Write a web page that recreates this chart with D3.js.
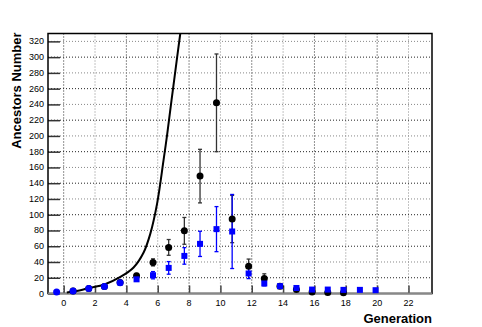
<!DOCTYPE html>
<html>
<head>
<meta charset="utf-8">
<script src="https://cdn.jsdelivr.net/npm/d3@7"></script>
<style>
  body { margin: 0; background: #fff; }
  text { font-family: "Liberation Sans", Arial, sans-serif; }
  .tick-label { font-size: 9px; fill: #000; }
  .axis-title { font-size: 13px; font-weight: bold; fill: #000; }
</style>
</head>
<body>
<div id="chart"></div>
<script>
// Black series (circles): generation, value, error
const blackGen = [0.6, 1.6, 2.6, 3.6, 4.65, 5.7, 6.7, 7.7, 8.7, 9.75, 10.75, 11.8, 12.8, 13.8, 14.85, 15.85, 16.85, 17.85];
const blackVal = [3.3, 6.3, 9, 14, 22.4, 39.5, 58.5, 79.5, 149, 242, 94.5, 34.7, 19, 9.3, 5, 2, 1.3, 1];
const blackErr = [1, 1.5, 2, 2.5, 3, 4.5, 10, 17, 34, 62, 30, 9, 6, 2.5, 1.5, 1, 1, 1];

// Blue series, low generations (circles)
const blueCircGen = [-0.45, 0.6, 1.6, 2.6, 3.6];
const blueCircVal = [1.8, 3.3, 6.3, 8.9, 13.5];

// Blue series (squares)
const blueGen = [4.65, 5.7, 6.7, 7.7, 8.7, 9.75, 10.75, 11.8, 12.8, 13.8, 14.85, 15.85, 16.85, 17.85, 18.9, 19.9];
const blueVal = [18, 23.2, 32.5, 47.7, 63, 81.7, 78.7, 25.4, 12.7, 9.3, 7, 5, 5, 4.6, 4.6, 4.2];
const blueErr = [2, 4.6, 8, 10.5, 16, 28.6, 47, 6.5, 3, 2.5, 1.5, 1, 0, 0, 0, 0];

// Curve
const curveGen = [0.2, 1.07, 1.6, 2.6, 3.62, 4.46, 5.1, 5.53, 5.96, 6.37, 6.61, 6.88, 7.24, 7.44];
const curveVal = [1.3, 4.2, 7, 11.5, 21, 33, 52, 76, 114, 169, 203, 245, 300, 330];

const xTicks = d3.range(0, 23, 2);
const yTicks = d3.range(0, 321, 20);

const width = 482, height = 327;
const margin = { left: 48, right: 50, top: 33.5, bottom: 33.5 };
const innerWidth = width - margin.left - margin.right;
const innerHeight = height - margin.top - margin.bottom;

const svg = d3.select("#chart")
  .append("svg")
  .attr("width", width)
  .attr("height", height);

const g = svg.append("g")
  .attr("transform", `translate(${margin.left}, ${margin.top})`);

const x = d3.scaleLinear().domain([-1, 23.5]).range([0, innerWidth]);
const y = d3.scaleLinear().domain([0, 330]).range([innerHeight, 0]);

// Grid
g.append("g").selectAll("line").data(xTicks).enter().append("line")
  .attr("x1", d => x(d)).attr("x2", d => x(d))
  .attr("y1", 0).attr("y2", innerHeight)
  .attr("stroke", (d, i) => i % 2 ? "#888" : "#222")
  .attr("stroke-dasharray", "1,2");
g.append("g").selectAll("line").data(yTicks.slice(1)).enter().append("line")
  .attr("x1", 0).attr("x2", innerWidth)
  .attr("y1", d => y(d)).attr("y2", d => y(d))
  .attr("stroke", (d, i) => i % 2 ? "#888" : "#222")
  .attr("stroke-dasharray", "1,2");

// Axes tick marks (pointing inward), labels drawn separately
const yAxis = g.append("g")
  .call(d3.axisLeft(y).tickValues(yTicks).tickSizeInner(-12).tickSizeOuter(0).tickFormat(""));
yAxis.select(".domain").remove();
yAxis.selectAll("line").attr("stroke", "#333").attr("stroke-width", 1.5);

const xAxis = g.append("g")
  .attr("transform", `translate(0, ${innerHeight})`)
  .call(d3.axisBottom(x).tickValues(xTicks).tickSizeInner(-8).tickSizeOuter(0).tickFormat(""));
xAxis.select(".domain").remove();
xAxis.selectAll("line").attr("stroke", "#444").attr("stroke-width", 1.5);

// Tick labels
g.append("g").selectAll("text").data(yTicks).enter().append("text")
  .attr("class", "tick-label")
  .attr("text-anchor", "end")
  .attr("x", -4)
  .attr("y", d => y(d) + 3)
  .text(d => d);
g.append("g").selectAll("text").data(xTicks).enter().append("text")
  .attr("class", "tick-label")
  .attr("text-anchor", "middle")
  .attr("x", d => x(d))
  .attr("y", innerHeight + 12)
  .text(d => d);

// Frame
g.append("rect")
  .attr("width", innerWidth).attr("height", innerHeight)
  .attr("fill", "none").attr("stroke", "#000").attr("stroke-width", 1.5);
g.append("line").attr("x1", 0).attr("x2", innerWidth)
  .attr("y1", innerHeight).attr("y2", innerHeight)
  .attr("stroke", "#888").attr("stroke-width", 2);

// Curve
const plot = g.append("g");
plot.append("path")
  .datum(curveGen.map((d, i) => [d, curveVal[i]]))
  .attr("fill", "none").attr("stroke", "#000").attr("stroke-width", 2)
  .attr("d", d3.line().x(d => x(d[0])).y(d => y(d[1])).curve(d3.curveCatmullRom));

// Error bars
function errorBars(gens, vals, errs, color) {
  const data = gens.map((d, i) => ({ gx: d, v: vals[i], e: errs[i] })).filter(d => d.e > 2.5);
  const eg = plot.append("g").attr("stroke", color).attr("stroke-width", 1.3);
  eg.selectAll(".bar").data(data).enter().append("line")
    .attr("x1", d => x(d.gx)).attr("x2", d => x(d.gx))
    .attr("y1", d => y(d.v - d.e)).attr("y2", d => y(d.v + d.e));
  eg.selectAll(".capTop").data(data).enter().append("line")
    .attr("x1", d => x(d.gx) - 2).attr("x2", d => x(d.gx) + 2)
    .attr("y1", d => y(d.v + d.e)).attr("y2", d => y(d.v + d.e));
  eg.selectAll(".capBot").data(data).enter().append("line")
    .attr("x1", d => x(d.gx) - 2).attr("x2", d => x(d.gx) + 2)
    .attr("y1", d => y(d.v - d.e)).attr("y2", d => y(d.v - d.e));
}
errorBars(blackGen, blackVal, blackErr, "#333");
errorBars(blueGen, blueVal, blueErr, "#0000ff");

// Markers
plot.append("g").selectAll("circle").data(blackGen).enter().append("circle")
  .attr("cx", d => x(d)).attr("cy", (d, i) => y(blackVal[i]))
  .attr("r", 3.5).attr("fill", "#000");
plot.append("g").selectAll("circle").data(blueCircGen).enter().append("circle")
  .attr("cx", d => x(d)).attr("cy", (d, i) => y(blueCircVal[i]))
  .attr("r", 3.5).attr("fill", "#0000ff");
plot.append("g").selectAll("rect").data(blueGen).enter().append("rect")
  .attr("x", d => x(d) - 3).attr("y", (d, i) => y(blueVal[i]) - 3)
  .attr("width", 6).attr("height", 6).attr("fill", "#0000ff");

// Axis titles
svg.append("text")
  .text("Generation")
  .attr("class", "axis-title")
  .attr("text-anchor", "end")
  .attr("x", margin.left + innerWidth)
  .attr("y", 323);

svg.append("text")
  .text("Ancestors Number")
  .attr("class", "axis-title")
  .attr("text-anchor", "end")
  .attr("transform", `translate(21, ${margin.top - 1}) rotate(-90)`);
</script>
</body>
</html>
